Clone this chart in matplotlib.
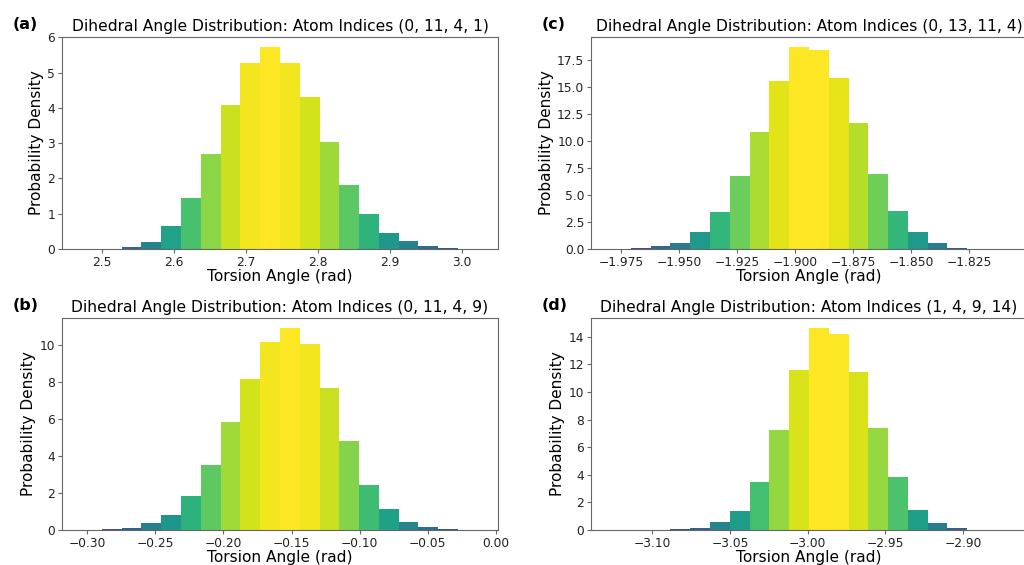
import numpy as np
import matplotlib
matplotlib.use("Agg")
import matplotlib.pyplot as plt

# ---- data ----
labels = ["(a)", "(b)", "(c)", "(d)"]
atom_indices = ["(0, 11, 4, 1)", "(0, 11, 4, 9)", "(0, 13, 11, 4)", "(1, 4, 9, 14)"]

bin_start_a = 2.4725
bin_width_a = 0.0275
density_a = [0.004, 0.004, 0.07, 0.21, 0.64, 1.45, 2.68, 4.07, 5.26, 5.73,
             5.28, 4.30, 3.04, 1.81, 1.00, 0.45, 0.22, 0.08, 0.03, 0.004]

bin_start_b = -0.3039
bin_width_b = 0.01454
density_b = [0.007, 0.04, 0.10, 0.36, 0.83, 1.85, 3.49, 5.85, 8.18, 10.14,
             10.92, 10.07, 7.68, 4.82, 2.45, 1.13, 0.45, 0.16, 0.05, 0.007]

bin_start_c = -1.9793
bin_width_c = 0.00853
density_c = [0.012, 0.06, 0.25, 0.56, 1.58, 3.44, 6.78, 10.90, 15.60, 18.76,
             18.48, 15.85, 11.67, 6.93, 3.53, 1.58, 0.59, 0.12, 0.03, 0.012]

bin_start_d = -3.1266
bin_width_d = 0.01274
density_d = [0.008, 0.008, 0.008, 0.05, 0.15, 0.58, 1.35, 3.50, 7.24, 11.61,
             14.63, 14.22, 11.46, 7.41, 3.86, 1.45, 0.48, 0.12, 0.02, 0.008]

panels = [
    (bin_start_a, bin_width_a, density_a),
    (bin_start_b, bin_width_b, density_b),
    (bin_start_c, bin_width_c, density_c),
    (bin_start_d, bin_width_d, density_d),
]

# axes positions in figure fraction [left, bottom, width, height]
positions = [
    [0.0608, 0.5593, 0.4252, 0.3758],
    [0.0608, 0.0620, 0.4252, 0.3752],
    [0.5774, 0.5593, 0.4252, 0.3758],
    [0.5774, 0.0620, 0.4252, 0.3752],
]

plt.rcParams['font.family'] = ['DejaVu Sans']
fig = plt.figure(figsize=(10.24, 5.65), dpi=100)
cmap = plt.get_cmap('viridis')
spine_col = '#666666'

for lab, idx, (start, w, dens), pos in zip(labels, atom_indices, panels, positions):
    ax = fig.add_axes(pos)
    dens = np.asarray(dens)
    edges = start + w * np.arange(len(dens) + 1)
    colors = cmap((dens / dens.max()) ** 0.25)
    ax.bar(edges[:-1], dens, width=w, align='edge', color=colors, linewidth=0)
    ax.set_xlim(edges[0] - 0.05 * (edges[-1] - edges[0]), edges[-1] + 0.05 * (edges[-1] - edges[0]))
    ax.set_ylim(0, dens.max() * 1.05)
    ax.set_title("Dihedral Angle Distribution: Atom Indices " + idx, fontsize=11.2, pad=4)
    ax.set_xlabel("Torsion Angle (rad)", fontsize=11.1, labelpad=0)
    ax.set_ylabel("Probability Density", fontsize=11.1, labelpad=2.5)
    ax.tick_params(labelsize=8.8, length=3, color=spine_col, pad=2, labelcolor='#222222')
    for s in ax.spines.values():
        s.set_color(spine_col)
        s.set_linewidth(0.8)
    fig.text(pos[0] - 0.048, pos[1] + pos[3] + 0.022, lab, fontsize=11.5,
             fontweight='bold', ha='left', va='center')

fig.savefig("out.png", dpi=100)
